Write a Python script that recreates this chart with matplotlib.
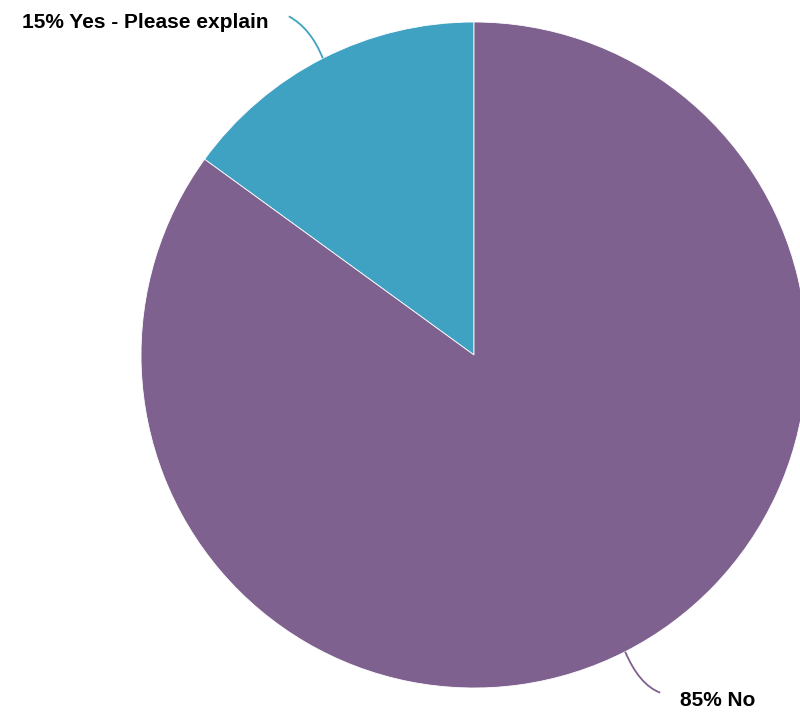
import matplotlib.pyplot as plt
from matplotlib.path import Path
from matplotlib.patches import PathPatch
import numpy as np

# data
labels = ["Yes - Please explain", "No"]
values = [15, 85]
colors = ["#40A2C2", "#7E618E"]

W, H = 800, 713
cx, cy, r = 474, H - 355, 333   # pie centre / radius in pixel units

plt.rcParams['font.family'] = ['Liberation Sans', 'DejaVu Sans']

fig = plt.figure(figsize=(8, 7.13), dpi=100)
ax = fig.add_axes([0, 0, 1, 1])

wedges, _ = ax.pie(values, colors=colors, startangle=90, counterclock=True,
                   center=(cx, cy), radius=r, frame=True,
                   wedgeprops=dict(edgecolor="white", linewidth=0.6))
ax.set_xlim(0, W)
ax.set_ylim(0, H)
ax.set_aspect("equal")
ax.axis("off")

# labels with curved connectors
for w, lab, val, col in zip(wedges, labels, values, colors):
    mid = np.deg2rad((w.theta1 + w.theta2) / 2)
    ex, ey = cx + r * np.cos(mid), cy + r * np.sin(mid)
    if np.cos(mid) < 0:
        # label to upper left
        tx, ty = ex - 34, ey + 42
        verts = [(ex, ey), (ex - 12, ey + 30), (tx, ty)]
        ax.text(tx - 20, ty - 6, f"{val}% {lab}", ha="right", va="center",
                fontsize=15, fontweight="bold", color="black")
    else:
        tx, ty = ex + 35, ey - 41
        verts = [(ex, ey), (ex + 14, ey - 33), (tx, ty)]
        ax.text(tx + 20, ty - 8, f"{val}% {lab}", ha="left", va="center",
                fontsize=15, fontweight="bold", color="black")
    path = Path(verts, [Path.MOVETO, Path.CURVE3, Path.CURVE3])
    ax.add_patch(PathPatch(path, facecolor="none", edgecolor=col, lw=1.3))

fig.savefig("out.png", dpi=100)
